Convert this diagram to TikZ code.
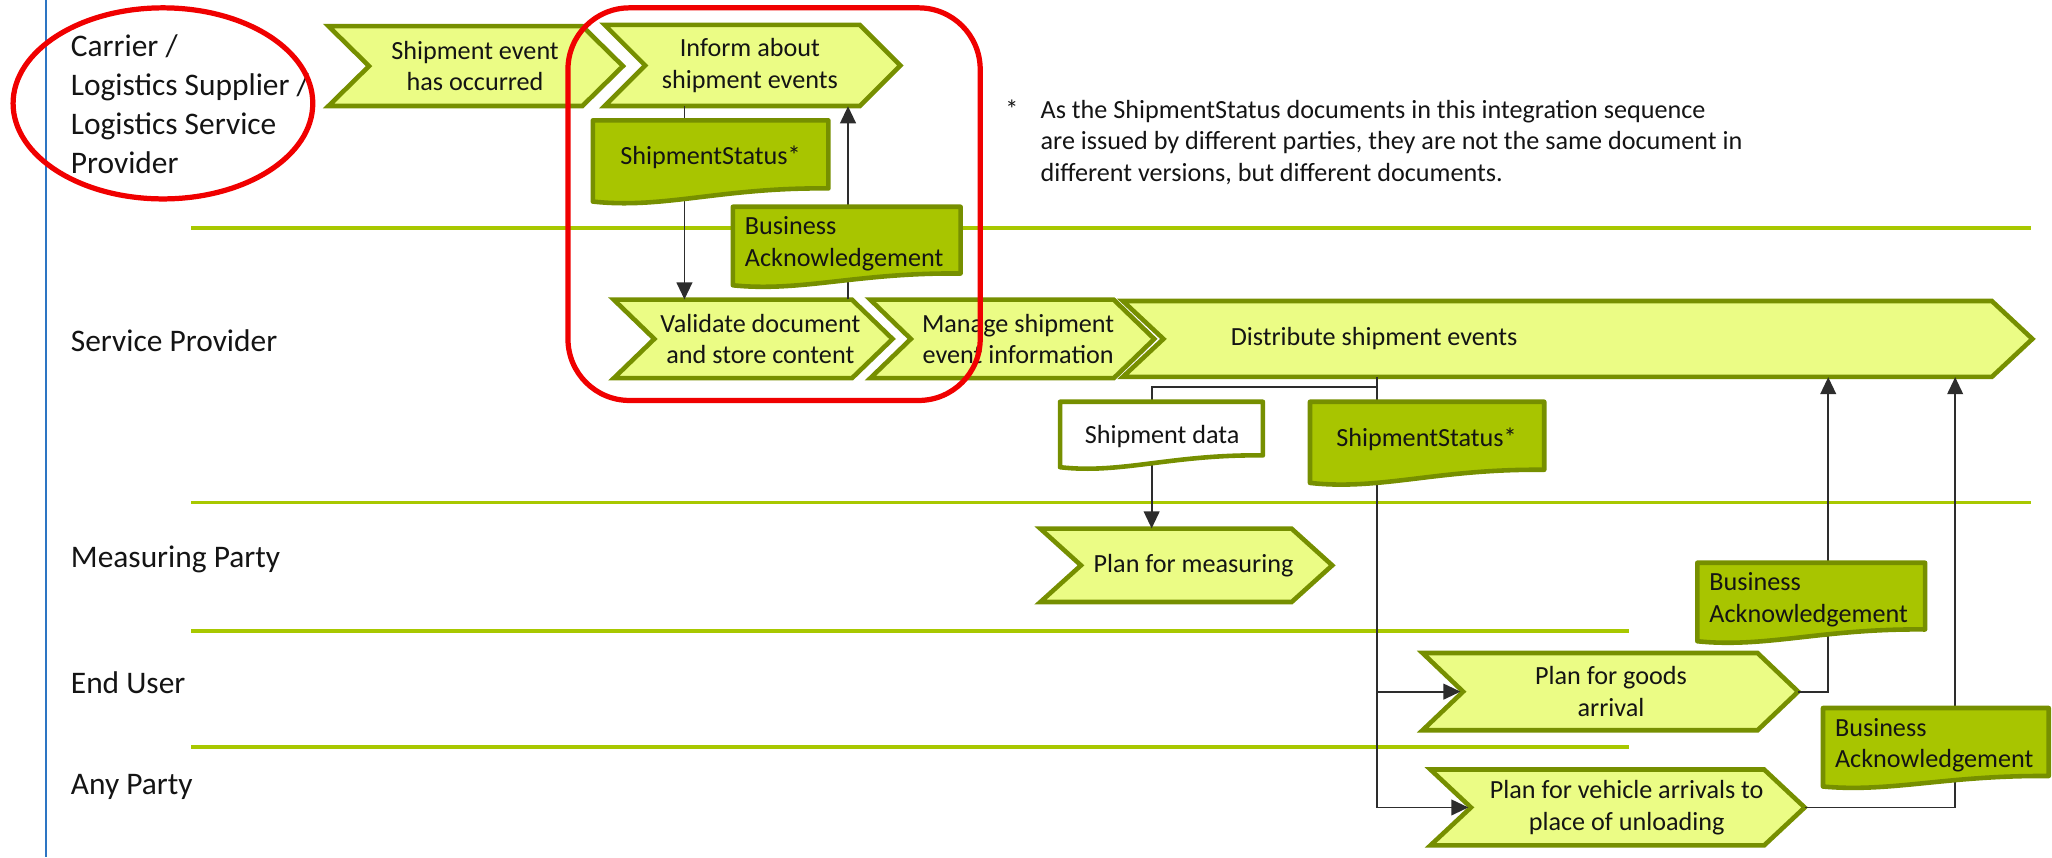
\documentclass[tikz,border=0pt]{standalone}
\usepackage{fontspec}
\setmainfont{Carlito}
\usetikzlibrary{arrows.meta,shapes.geometric}
\definecolor{chevfill}{RGB}{235,252,133}
\definecolor{olivec}{RGB}{118,143,0}
\definecolor{docfill}{RGB}{168,197,0}
\definecolor{lanegreen}{RGB}{168,200,0}
\definecolor{connc}{RGB}{45,45,45}
\definecolor{redmarkc}{RGB}{240,0,0}
\definecolor{bluel}{RGB}{45,117,195}
\definecolor{txtc}{RGB}{20,20,20}
\tikzset{
 chevshape/.style={fill=chevfill, draw=olivec, line width=3.5pt, line join=miter},
 docshape/.style={fill=docfill, draw=olivec, line width=3.5pt, line join=round},
 whitedoc/.style={fill=white, draw=olivec, line width=3.5pt, line join=round},
 boxtext/.style={inner sep=0pt, align=center, font=\fontsize{20}{24}\selectfont, text=txtc},
 lanetext/.style={inner sep=0pt, align=left, font=\fontsize{24}{30}\selectfont, text=txtc},
 laneline/.style={draw=lanegreen, line width=3pt},
 conn/.style={draw=connc, line width=1.4pt, -{Triangle[length=13pt,width=12pt]}},
 redmark/.style={draw=redmarkc, line width=4pt},
}
\newcommand\chv[7]{%
 \path[chevshape] (#2,#3) -- ({#4-31},#3) -- (#4,{(#3+#5)/2}) -- ({#4-31},#5) -- (#2,#5) -- ({#2+31},{(#3+#5)/2}) -- cycle;
 \node[boxtext, minimum height={(#5-#3)*1pt}] (#1) at (#6,{(#3+#5)/2}) {#7};
 \coordinate (#1-in) at ({#2+29},{(#3+#5)/2});
 \coordinate (#1-out) at (#4,{(#3+#5)/2});
}
\newcommand\docpath[6]{%
 \path[#1] (#2,#4) -- (#3,#4) -- (#3,#6) .. controls ({#2+0.55*(#3-#2)},{#6-0.1*(#5-#6)}) and ({#2+0.3*(#3-#2)},{#5+0.6*(#5-#6)}) .. (#2,#5) -- cycle;
}
\begin{document}
\begin{tikzpicture}[x=1pt,y=-1pt]
\useasboundingbox (0,0) rectangle (1568,655);
% left border
\draw[draw=bluel, line width=1.5pt] (35,0) -- (35,655);
% lane lines
\draw[laneline] (146,174) -- (1552,174);
\draw[laneline] (146,384) -- (1552,384);
\draw[laneline] (146,482) -- (1245,482);
\draw[laneline] (146,571) -- (1245,571);
% lane labels
\node[lanetext, anchor=north west] (lcarrier) at (54,26) {Carrier /\\Logistics Supplier /\\Logistics Service\\Provider};
\node[lanetext, anchor=base west] (lsp) at (54,268.6) {Service Provider};
\node[lanetext, anchor=base west] (lmp) at (54,434) {Measuring Party};
\node[lanetext, anchor=base west] (leu) at (54,530) {End User};
\node[lanetext, anchor=base west] (lap) at (54,607) {Any Party};
% chevrons
\chv{occ}{251}{20}{476}{81}{363}{Shipment event\\has occurred}
\chv{inform}{462}{19}{688}{81}{573}{Inform about\\shipment events}
\chv{validate}{469}{229}{682}{289}{581}{Validate document\\and store content}
\chv{manage}{665}{229}{882}{289}{778}{Manage shipment\\event information}
\chv{distribute}{858}{230}{1553}{288}{1050}{Distribute shipment events}
\chv{measuring}{795}{404}{1018}{460}{912}{Plan for measuring}
\chv{goods}{1087}{499}{1374}{558}{1231}{Plan for goods\\arrival}
\chv{vehicle}{1093}{588}{1379}{646}{1243}{Plan for vehicle arrivals to\\place of unloading}
% connector columns
\coordinate (c1) at (523,0);
\coordinate (c2) at (648,0);
\coordinate (c3) at (880,0);
\coordinate (split) at (1052,295.5);
\coordinate (c5) at (1397,0);
\coordinate (c6) at (1494,0);
% connectors
\draw[conn] (inform.south -| c1) -- (validate.north -| c1);
\draw[conn] (validate.north -| c2) -- (inform.south -| c2);
\draw[conn] (distribute.south -| split) -- (split) -| (measuring.north -| c3);
\draw[conn] (distribute.south -| split) |- (vehicle-in);
\draw[conn] (split |- goods-in) -- (goods-in);
\draw[conn] (goods-out) -| (distribute.south -| c5);
\draw[conn] (vehicle-out) -| (distribute.south -| c6);
% documents
\docpath{docshape}{453}{633}{92}{154}{144}
\node[boxtext] (ss1) at (543,120) {ShipmentStatus*};
\docpath{docshape}{560}{734}{158}{218}{209}
\node[boxtext, anchor=north west, align=left] (ba1) at (569,165.5) {Business\\Acknowledgement};
\docpath{whitedoc}{810}{965}{307}{357}{348}
\node[boxtext] (sdata) at (888,333.7) {Shipment data};
\docpath{docshape}{1001}{1180}{307}{369}{359}
\node[boxtext] (ss2) at (1090,336) {ShipmentStatus*};
\docpath{docshape}{1297}{1471}{430}{490}{481}
\node[boxtext, anchor=north west, align=left] (ba3) at (1306,437.5) {Business\\Acknowledgement};
\docpath{docshape}{1393}{1565.5}{541}{601}{593}
\node[boxtext, anchor=north west, align=left] (ba4) at (1402,548.5) {Business\\Acknowledgement};
% note
\node[boxtext, anchor=base west] (star) at (768,90.4) {*};
\node[boxtext, anchor=north west, align=left] (note) at (795,76.4) {As the ShipmentStatus documents in this integration sequence\\are issued by different parties, they are not the same document in\\different versions, but different documents.};
% red highlights
\node[redmark, ellipse, minimum width=229pt, minimum height=146pt, inner sep=0pt] (ringmark) at (124.5,79) {};
\node[redmark, rectangle, rounded corners=47pt, minimum width=315pt, minimum height=300pt, inner sep=0pt] (focusmark) at (591.5,156) {};
\end{tikzpicture}
\end{document}
